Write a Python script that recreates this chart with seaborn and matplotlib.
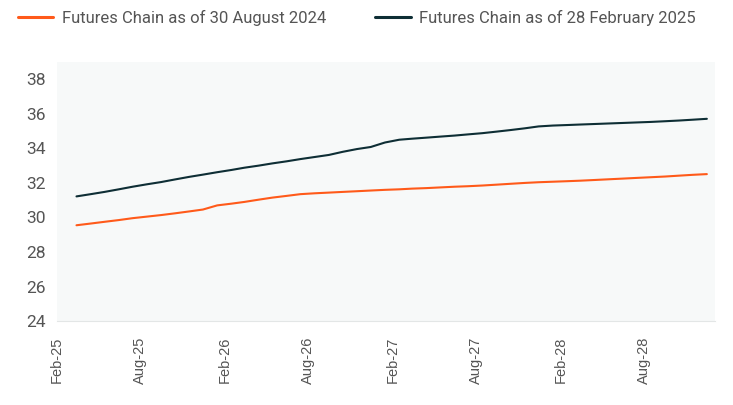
import matplotlib.pyplot as plt
import matplotlib.dates as mdates
import pandas as pd
import seaborn as sns

# monthly contract dates, mid-month, Mar 2025 .. Dec 2028
dates = pd.date_range("2025-03-01", "2028-12-01", freq="MS") + pd.Timedelta(days=14)

chain_aug_2024 = [
    29.55, 29.65, 29.75, 29.85, 29.96, 30.05, 30.14, 30.24, 30.35, 30.46,
    30.70, 30.80, 30.90, 31.03, 31.15, 31.25, 31.35, 31.40, 31.44, 31.48,
    31.52, 31.56, 31.60, 31.63, 31.67, 31.70, 31.74, 31.78, 31.81, 31.85,
    31.90, 31.95, 32.00, 32.04, 32.07, 32.10, 32.13, 32.17, 32.21, 32.25,
    32.29, 32.33, 32.37, 32.42, 32.47, 32.51,
]
chain_feb_2025 = [
    31.22, 31.35, 31.48, 31.63, 31.78, 31.92, 32.05, 32.20, 32.35, 32.48,
    32.62, 32.75, 32.88, 33.00, 33.13, 33.25, 33.38, 33.50, 33.62, 33.80,
    33.96, 34.08, 34.34, 34.50, 34.56, 34.62, 34.68, 34.74, 34.81, 34.88,
    34.97, 35.06, 35.16, 35.27, 35.32, 35.35, 35.38, 35.41, 35.44, 35.47,
    35.50, 35.53, 35.57, 35.61, 35.66, 35.71,
]
series_names = ["Futures Chain as of 30 August 2024", "Futures Chain as of 28 February 2025"]
colors = ["#FF5A1A", "#0E2E35"]

df = pd.concat([
    pd.DataFrame({"date": dates, "price": chain_aug_2024, "series": series_names[0]}),
    pd.DataFrame({"date": dates, "price": chain_feb_2025, "series": series_names[1]}),
])

sns.set_style("white")
plt.rcParams["font.family"] = ["Roboto", "DejaVu Sans"]

fig = plt.figure(figsize=(7.33, 4.05), dpi=100)
ax = fig.add_axes([0.078, 0.207, 0.897, 0.640])
ax.set_facecolor("#F7F9F9")

sns.lineplot(data=df, x="date", y="price", hue="series", palette=colors,
             linewidth=1.5, ax=ax, legend=False)

ax.set_xlim(pd.Timestamp("2025-02-01"), pd.Timestamp("2029-01-01"))
ax.set_ylim(24, 39)
ax.set_yticks(range(24, 39, 2))
ax.xaxis.set_major_locator(mdates.MonthLocator(bymonth=[2, 8]))
ax.xaxis.set_major_formatter(mdates.DateFormatter("%b-%y"))
ax.set_xlabel("")
ax.set_ylabel("")

for s in ["top", "right", "left"]:
    ax.spines[s].set_visible(False)
ax.spines["bottom"].set_color("#E3E6E6")
ax.tick_params(axis="x", length=5, color="#E3E6E6", labelsize=10.5,
               labelcolor="#555555", rotation=90, pad=6)
ax.tick_params(axis="y", length=0, labelsize=12.5, labelcolor="#555555", pad=8)
for lab in ax.get_xticklabels():
    lab.set_family(["Liberation Sans", "DejaVu Sans"])

# two legend entries placed separately, as in the reference
for name, c, x0 in zip(series_names, colors, [0.024, 0.512]):
    fig.legend([plt.Line2D([], [], color=c, linewidth=2.2)], [name],
               loc="center left", bbox_to_anchor=(x0, 0.955), frameon=False,
               fontsize=12, handlelength=2.15, handletextpad=0.5,
               borderpad=0, borderaxespad=0, labelcolor="#555555")

fig.savefig("out.png", dpi=100)
